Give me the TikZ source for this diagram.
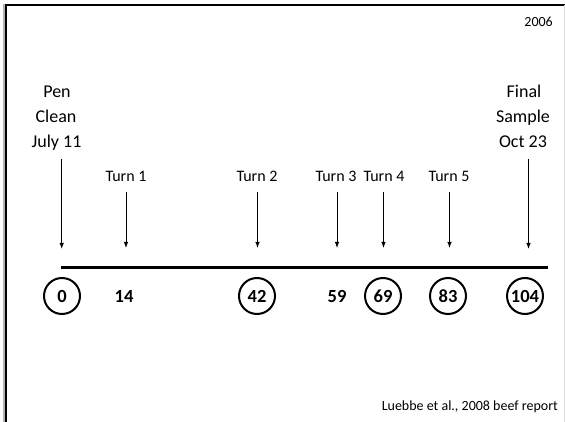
\documentclass[tikz,border=0pt]{standalone}
\usepackage{fontspec}
\setmainfont{Carlito}
\usetikzlibrary{arrows.meta}
\begin{document}
\begin{tikzpicture}[x=1pt,y=-1pt,
  lbl/.style={font=\fontsize{18}{18}\selectfont, anchor=base, inner sep=0pt},
  turnlbl/.style={font=\fontsize{16}{16}\selectfont, anchor=base, inner sep=0pt},
  day/.style={font=\bfseries\fontsize{18.5}{18.5}\selectfont, inner sep=0pt, minimum size=36pt},
  daycirc/.style={day, circle, draw, line width=2pt},
  marker/.style={-{Latex[length=6pt,width=4.5pt]}, line width=1pt},
  note/.style={font=\fontsize{14}{14}\selectfont, inner sep=0pt},
]
\useasboundingbox[fill=white] (0,0) rectangle (565,422);

% frame edges
\draw[gray!60, line width=1.5pt] (4,4) -- (4,422);
\draw[line width=2.2pt] (6,4.7) -- (6,422);
\draw[line width=2.2pt] (5,4.7) -- (565,4.7);
\draw[gray!25, line width=0.8pt] (564.5,5) -- (564.5,422);

% year and reference
\node[note, anchor=base east] (year) at (553,27) {2006};
\node[note, anchor=base east] (ref) at (558,410) {Luebbe et al., 2008 beef report};

% start and end labels
\node[lbl] (pen)   at (57,98)  {Pen};
\node[lbl] (clean) at (56,123) {Clean};
\node[lbl] (jul)   at (56.5,148) {July 11};
\node[lbl] (fin)   at (524,98)  {Final};
\node[lbl] (samp)  at (523,123) {Sample};
\node[lbl] (oct)   at (523,148) {Oct 23};

% turn labels
\node[turnlbl] (t1) at (126,182) {Turn 1};
\node[turnlbl] (t2) at (257,182) {Turn 2};
\node[turnlbl] (t3) at (336,182) {Turn 3};
\node[turnlbl] (t4) at (384,182) {Turn 4};
\node[turnlbl] (t5) at (449,182) {Turn 5};

% arrow ends
\coordinate (s0) at (61.7,159);  \coordinate (e0) at (61.7,249);
\coordinate (s1) at (126,192);   \coordinate (e1) at (126,248);
\coordinate (s2) at (257.5,192); \coordinate (e2) at (257.5,248);
\coordinate (s3) at (337,192);   \coordinate (e3) at (337,248);
\coordinate (s4) at (383.5,192); \coordinate (e4) at (383.5,248);
\coordinate (s5) at (449.5,192); \coordinate (e5) at (449.5,248);
\coordinate (s6) at (528.5,159); \coordinate (e6) at (528.5,249);

\foreach \i in {0,...,6} \draw[marker] (s\i) -- (e\i);

% timeline
\coordinate (tl0) at (61,267);
\coordinate (tl1) at (548,267);
\draw[line width=3pt] (tl0) -- (tl1);

% day numbers
\node[daycirc] (d0)   at (62,296)  {0};
\node[day]     (d14)  at (124,296) {14};
\node[daycirc] (d42)  at (257,296) {42};
\node[day]     (d59)  at (337,296) {59};
\node[daycirc] (d69)  at (383,296) {69};
\node[daycirc] (d83)  at (448,296) {83};
\node[daycirc] (d104) at (525,296) {104};
\end{tikzpicture}
\end{document}
